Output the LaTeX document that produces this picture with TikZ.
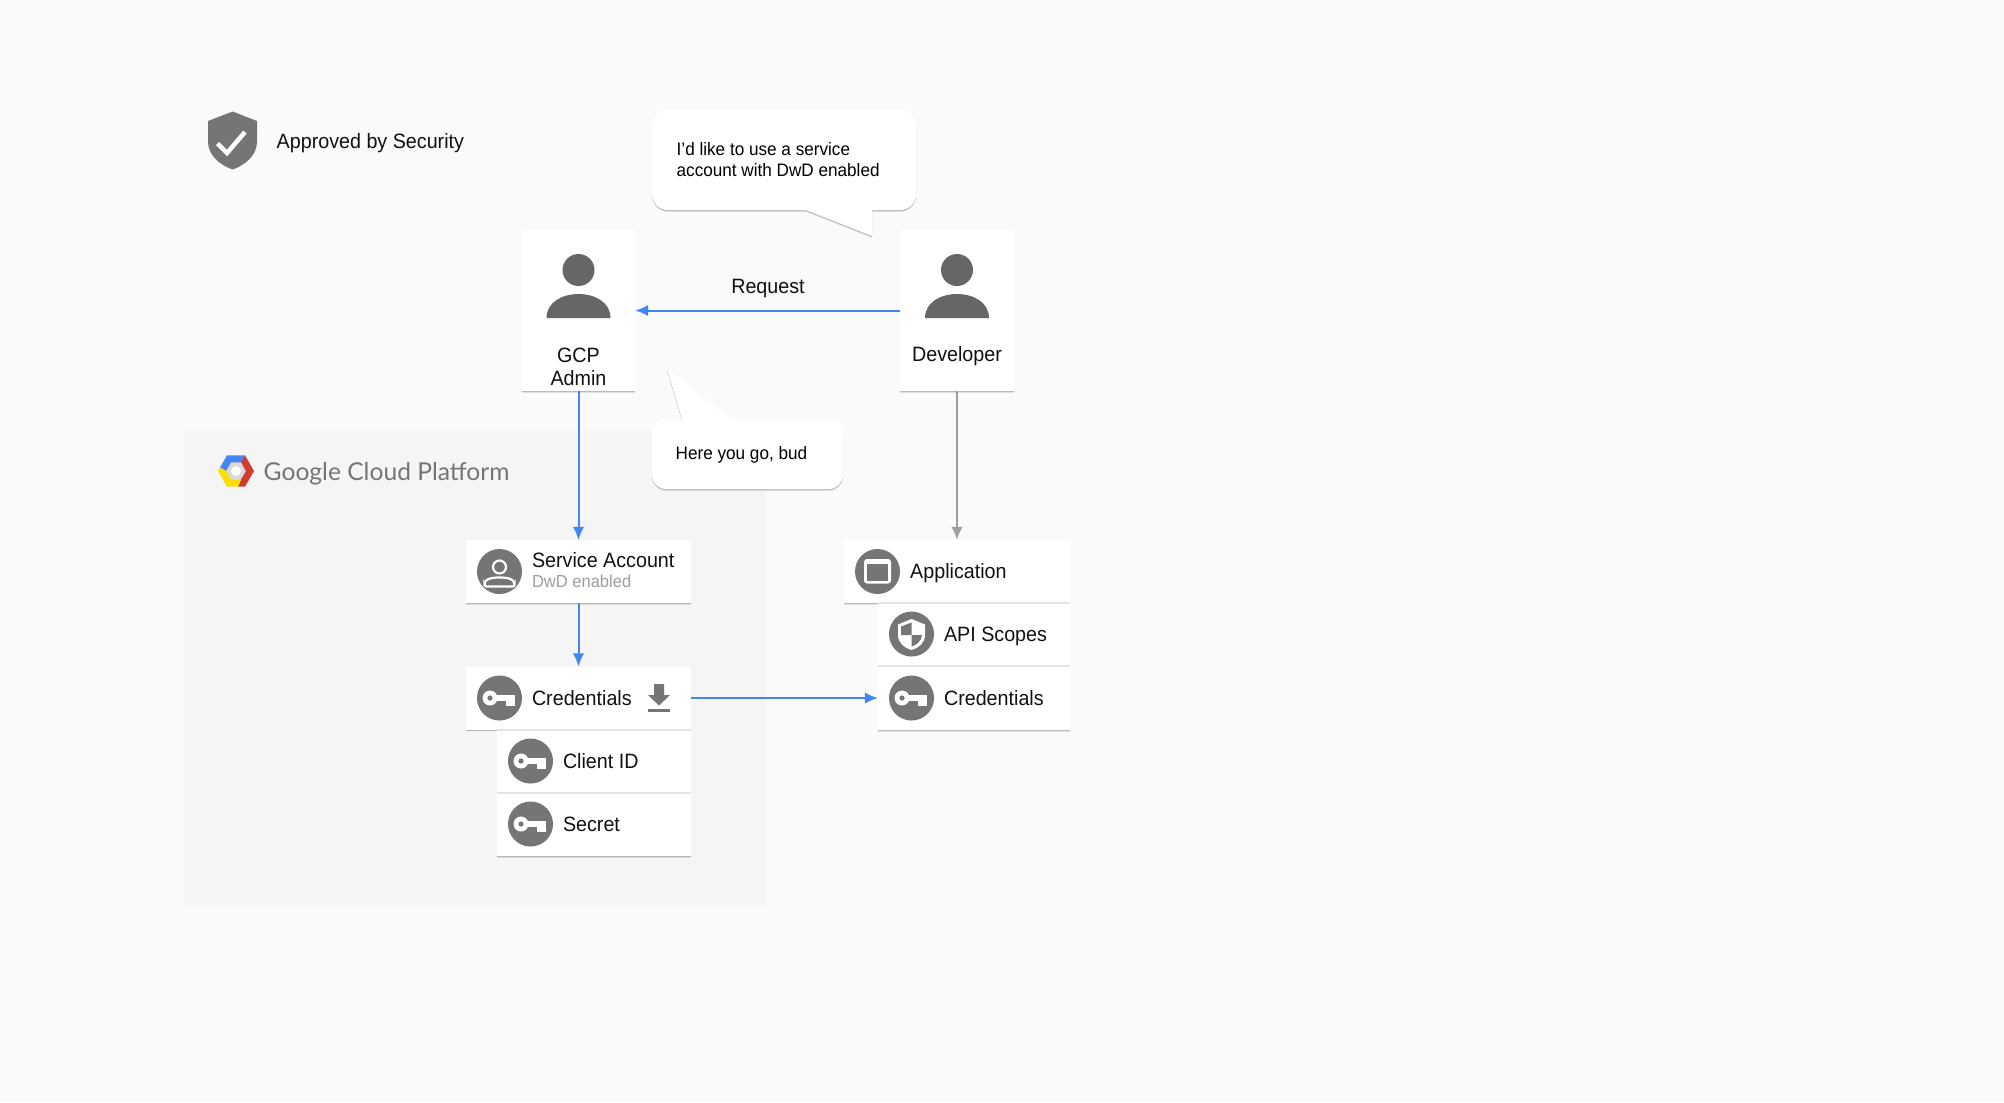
\documentclass[tikz,border=0pt]{standalone}
\usepackage{fontspec}
\setmainfont[FakeStretch=0.95]{Liberation Sans}
\newfontfamily\logofont{Lato}
\usetikzlibrary{arrows.meta,shadows}

\definecolor{pagebg}{HTML}{FAFAFA}
\definecolor{gcpbg}{HTML}{F5F5F5}
\definecolor{glyph}{HTML}{757575}
\definecolor{persongray}{HTML}{666666}
\definecolor{linkblue}{HTML}{4285F4}
\definecolor{linkgray}{HTML}{9E9E9E}
\definecolor{sepline}{HTML}{E4E4E4}
\definecolor{inktext}{HTML}{111111}

\tikzset{
  softshadow/.style={
    drop shadow={shadow xshift=0pt,shadow yshift=-0.55pt,opacity=.1,fill=black},
    drop shadow={shadow xshift=0pt,shadow yshift=-0.3pt,opacity=.16,fill=black},
  },
  card/.style={rectangle,fill=white,inner sep=0pt,outer sep=0pt,softshadow},
  icon/.style={circle,fill=glyph,minimum size=0.45cm,inner sep=0pt,outer sep=0pt},
  label/.style={inner sep=0pt,anchor=west,text=inktext,font=\fontsize{5.9}{6.5}\selectfont},
  sublabel/.style={inner sep=0pt,anchor=west,text=linkgray,font=\fontsize{4.95}{5.5}\selectfont},
  saying/.style={inner sep=0pt,anchor=west,align=left,text=black,font=\fontsize{5.13}{5.95}\selectfont},
  bubble/.style={fill=white,softshadow},
  bluearrow/.style={-{Latex[length=3.7pt,width=3.2pt]},draw=linkblue,line width=0.02cm},
  grayarrow/.style={-{Latex[length=3.7pt,width=3.2pt]},draw=linkgray,line width=0.02cm},
  personicon/.pic={
    \fill[persongray] (0,0) circle [radius=16];
    \fill[persongray] (-32,48) .. controls (-32,32) and (-16,24) .. (0,24) .. controls (16,24) and (32,32) .. (32,48) -- cycle;
  },
  keyicon/.pic={
    \fill[white] (-9.5,0) circle [radius=7.5];
    \fill[white] (-5,-3) rectangle (15,3);
    \fill[white] (6,3) rectangle (15,8);
    \fill[glyph] (-9.5,0) circle [radius=2.6];
  },
  usericon/.pic={
    \draw[white,line width=0.022cm] (0,-4.5) circle [radius=6.5];
    \draw[white,line width=0.022cm,rounded corners=0.02cm] (-15,15) -- (-15,12) .. controls (-13,7) and (-6,6) .. (0,6) .. controls (6,6) and (13,7) .. (15,12) -- (15,15) -- cycle;
  },
  shieldicon/.pic={
    \fill[white] (0,-15) -- (13.5,-9.5) -- (13.5,1) .. controls (13.5,9) and (7,14) .. (0,16) .. controls (-7,14) and (-13.5,9) .. (-13.5,1) -- (-13.5,-9.5) -- cycle;
    \fill[glyph] (0,-11.5) -- (-10.5,-7.5) -- (-10.5,1) -- (0,1) -- cycle;
    \fill[glyph] (0,1) -- (10.5,1) .. controls (10,7) and (5,11) .. (0,12.5) -- cycle;
  },
  windowicon/.pic={
    \fill[white,rounded corners=0.03cm] (-13.5,-12.5) rectangle (13.5,12);
    \fill[glyph] (-10.5,-8) rectangle (10.5,9);
  },
}

\begin{document}
\begin{tikzpicture}[x=0.01cm,y=-0.01cm]
\fill[pagebg] (0,0) rectangle (2004,1102);
\fill[gcpbg] (184,431) rectangle (766,905);

% security badge
\fill[glyph] (232.7,111.5) -- (257,121) -- (257,143) .. controls (256,156) and (245,165) .. (232.7,169.5) .. controls (220,165) and (209,156) .. (208,143) -- (208,121) -- cycle;
\draw[white,line width=0.045cm] (217.5,143.5) -- (227,153) -- (245,132);
\node[label] (approved) at (276,143.5) {Approved by Security};

% logo
\begin{scope}[shift={(236,471)}]
\fill[gray!30] (10.5,0) -- (5.2,-9) -- (-5.2,-9) -- (-10.5,0) -- (-5.2,9) -- (5.2,9) -- cycle;
\fill[linkblue] (9,-15.6) -- (-9,-15.6) -- (-16,-3.5) -- (-10,0) -- (-5,-8.7) -- (5,-8.7) -- cycle;
\fill[red!60!gray!90!orange] (9,-15.6) -- (18,0) -- (9,15.6) -- (2,15.6) -- (5,8.7) -- (10,0) -- (5,-8.7) -- cycle;
\fill[yellow!80!orange] (-16,-3.5) -- (-18,0) -- (-9,15.6) -- (2,15.6) -- (5,8.7) -- (-5,8.7) -- (-10,0) -- cycle;
\fill[white] (0,0) circle [radius=5];
\end{scope}
\node[inner sep=0pt,anchor=west,text=glyph,font=\logofont\fontsize{7}{8}\selectfont] (gcplogo) at (263,473.5) {Google Cloud Platform};

% speech bubbles
\path[bubble,rounded corners=0.16cm] (652,160) -- (652,110) -- (916,110) -- (916,210) [sharp corners] -- (872,210) -- (872,236) -- (806,210) [rounded corners=0.16cm] -- (652,210) -- cycle;
\path[bubble,rounded corners=0.14cm] (652,454) -- (652,489) -- (843,489) -- (843,419) [sharp corners] -- (731,419) -- (667,369) -- (682,419) [rounded corners=0.14cm] -- (652,419) -- cycle;
\node[saying] (askline) at (676,159.5) {I'd like to use a service\\account with DwD enabled};
\node[saying] (budline) at (675,454.5) {Here you go, bud};

% people
\node[card,minimum width=1.13cm,minimum height=1.61cm] (admin) at (578.5,310.5) {};
\node[card,minimum width=1.13cm,minimum height=1.61cm] (dev) at (957,310.5) {};
\pic at (578.5,270) {personicon};
\pic at (957,270) {personicon};
\node[label,anchor=center,align=center] (adminname) at (578.5,366.5) {GCP\\Admin};
\node[label,anchor=center] (devname) at (957,356.5) {Developer};

% left stack
\node[card,minimum width=2.25cm,minimum height=0.63cm] (svc) at (578.5,571.5) {};
\node[card,minimum width=2.25cm,minimum height=0.63cm] (cred) at (578.5,698) {};
\node[card,minimum width=1.94cm,minimum height=0.63cm] (clientid) at (594,761.5) {};
\node[card,minimum width=1.94cm,minimum height=0.63cm] (secret) at (594,824.5) {};
\draw[sepline] (secret.north west) -- (secret.north east);
\draw[sepline] (clientid.north west) -- (clientid.north east);

\node[icon] (svcicon) at (499.5,571.5) {};
\pic at (svcicon) {usericon};
\node[label] (svcname) at (531.3,560) {Service Account};
\node[sublabel] (svcnote) at (531.3,581.5) {DwD enabled};

\node[icon] (credicon) at (499.5,698) {};
\pic at (credicon) {keyicon};
\node[label] (credname) at (531.3,698) {Credentials};
\fill[glyph] (654,684) -- (664,684) -- (664,695) -- (670,695) -- (659,705.5) -- (648,695) -- (654,695) -- cycle;
\fill[glyph] (648,708.5) rectangle (670,711.5);

\node[icon] (clienticon) at (530.5,761) {};
\pic at (clienticon) {keyicon};
\node[label] (clientname) at (562.3,761) {Client ID};
\node[icon] (secreticon) at (530.5,824) {};
\pic at (secreticon) {keyicon};
\node[label] (secretname) at (562.3,824.5) {Secret};

% right stack
\node[card,minimum width=2.26cm,minimum height=0.63cm] (app) at (957,571.5) {};
\node[card,minimum width=1.92cm,minimum height=0.63cm] (scopes) at (974,634.5) {};
\node[card,minimum width=1.92cm,minimum height=0.64cm] (appcred) at (974,698) {};
\draw[sepline] (scopes.north west) -- (scopes.north east);
\draw[sepline] (appcred.north west) -- (appcred.north east);

\node[icon] (appicon) at (877.5,571.5) {};
\pic at (appicon) {windowicon};
\node[label] (appname) at (909.5,573.5) {Application};
\node[icon] (scopesicon) at (911.5,634) {};
\pic at (scopesicon) {shieldicon};
\node[label] (scopesname) at (943.3,636.5) {API Scopes};
\node[icon] (appcredicon) at (911.5,698) {};
\pic at (appcredicon) {keyicon};
\node[label] (appcredname) at (943.3,698.5) {Credentials};

% connectors
\draw[bluearrow] (dev) -- (admin);
\node[label,anchor=center] (reqlabel) at (768,288.5) {Request};
\draw[bluearrow] (admin) -- (svc);
\draw[bluearrow] (svc) -- (cred);
\draw[bluearrow] (cred) -- (appcred);
\draw[grayarrow] (dev) -- (app);
\end{tikzpicture}
\end{document}
